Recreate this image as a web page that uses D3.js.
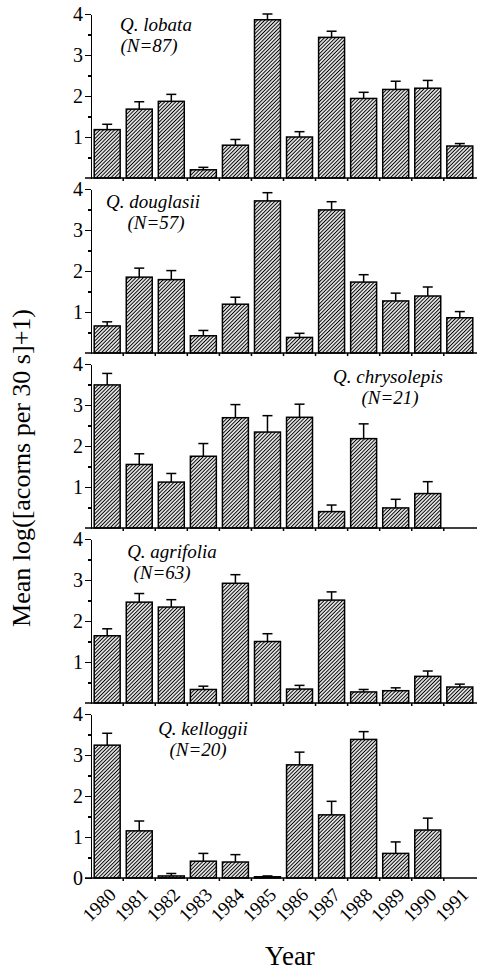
<!DOCTYPE html>
<html>
<head>
<meta charset="utf-8">
<script src="https://cdn.jsdelivr.net/npm/d3@7"></script>
<style>
    body { margin: 0; background: white; }
    text { font-family: "Liberation Serif", "Times New Roman", serif; fill: black; }
    .axis path, .axis line { fill: none; stroke: black; stroke-width: 1.5; shape-rendering: crispEdges; }
    .axis text { font-size: 20px; font-family: "Liberation Serif", "Times New Roman", serif; }
    .bar { fill: url(#hatch); stroke: black; stroke-width: 1.5; }
    .err { stroke: black; stroke-width: 1.5; fill: none; }
    .species { font-size: 19px; font-style: italic; text-anchor: middle; }
    .title { font-size: 26px; text-anchor: middle; }
</style>
</head>
<body>
<div id="chart"></div>
<script>
// data: mean and standard error per year
var years = [1980, 1981, 1982, 1983, 1984, 1985, 1986, 1987, 1988, 1989, 1990, 1991];

var lobataMean = [1.18, 1.68, 1.87, 0.20, 0.80, 3.86, 1.00, 3.43, 1.94, 2.16, 2.19, 0.78];
var lobataSE   = [0.13, 0.18, 0.17, 0.06, 0.14, 0.14, 0.13, 0.15, 0.15, 0.20, 0.19, 0.06];

var douglasiiMean = [0.66, 1.85, 1.79, 0.42, 1.19, 3.71, 0.38, 3.49, 1.73, 1.27, 1.39, 0.86];
var douglasiiSE   = [0.10, 0.22, 0.22, 0.13, 0.17, 0.20, 0.10, 0.20, 0.18, 0.19, 0.22, 0.15];

var chrysolepisMean = [3.49, 1.55, 1.12, 1.75, 2.69, 2.34, 2.70, 0.40, 2.18, 0.49, 0.84, null];
var chrysolepisSE   = [0.28, 0.26, 0.21, 0.31, 0.32, 0.40, 0.32, 0.16, 0.36, 0.21, 0.29, null];

var agrifoliaMean = [1.64, 2.46, 2.34, 0.33, 2.92, 1.50, 0.34, 2.51, 0.27, 0.30, 0.65, 0.39];
var agrifoliaSE   = [0.17, 0.21, 0.18, 0.08, 0.21, 0.19, 0.09, 0.20, 0.06, 0.07, 0.13, 0.07];

var kelloggiiMean = [3.24, 1.15, 0.05, 0.41, 0.39, 0.03, 2.76, 1.54, 3.38, 0.60, 1.17, null];
var kelloggiiSE   = [0.29, 0.24, 0.06, 0.19, 0.18, 0.02, 0.31, 0.33, 0.19, 0.28, 0.29, null];

var speciesNames = ["Q. lobata", "Q. douglasii", "Q. chrysolepis", "Q. agrifolia", "Q. kelloggii"];
var sampleSizes = ["(N=87)", "(N=57)", "(N=21)", "(N=63)", "(N=20)"];
var yTicks = [0, 1, 2, 3, 4];
var yMinorTicks = [0.5, 1.5, 2.5, 3.5];

var means = [lobataMean, douglasiiMean, chrysolepisMean, agrifoliaMean, kelloggiiMean];
var errors = [lobataSE, douglasiiSE, chrysolepisSE, agrifoliaSE, kelloggiiSE];

// layout
var W = 477, H = 971;
var axisX = 91, rightX = 476;
var panelTop0 = 14, panelStep = 175, panelH = 164;
// label placement [x name, y name, x N, y N] relative to panel top
var labelPos = [
    [156, 17, 149, 38],
    [153, 19, 156, 40],
    [388, 19, 390, 40],
    [172, 19, 162, 40],
    [203, 21, 198, 42]
];

var svg = d3.select("#chart").append("svg")
    .attr("width", W)
    .attr("height", H);

var hatch = svg.append("defs").append("pattern")
    .attr("id", "hatch")
    .attr("patternUnits", "userSpaceOnUse")
    .attr("width", 2.6)
    .attr("height", 10)
    .attr("patternTransform", "rotate(45)");
hatch.append("rect").attr("width", 2.6).attr("height", 10).attr("fill", "white");
hatch.append("line")
    .attr("x1", 1.3).attr("y1", 0).attr("x2", 1.3).attr("y2", 10)
    .attr("stroke", "black").attr("stroke-width", 1.1);

var x = d3.scaleBand()
    .domain(years)
    .range([axisX, rightX])
    .paddingInner(0.19)
    .paddingOuter(0.1);

var gap = x.step() * x.paddingInner();

means.forEach(function (vals, i) {
    var top = panelTop0 + i * panelStep;
    var bottom = top + panelH;
    var y = d3.scaleLinear().domain([0, 4]).range([bottom, top]);
    var g = svg.append("g");

    var rows = years.map(function (yr, j) {
        return { year: yr, mean: vals[j], se: errors[i][j] };
    }).filter(function (d) { return d.mean !== null; });

    // bars
    g.selectAll(".bar")
        .data(rows)
        .enter().append("rect")
        .attr("class", "bar")
        .attr("x", function (d) { return x(d.year); })
        .attr("y", function (d) { return y(d.mean); })
        .attr("width", x.bandwidth())
        .attr("height", function (d) { return y(0) - y(d.mean); });

    // error bars
    g.selectAll(".errv")
        .data(rows)
        .enter().append("line")
        .attr("class", "err")
        .attr("x1", function (d) { return x(d.year) + x.bandwidth() / 2; })
        .attr("x2", function (d) { return x(d.year) + x.bandwidth() / 2; })
        .attr("y1", function (d) { return y(d.mean); })
        .attr("y2", function (d) { return y(d.mean + d.se); });

    g.selectAll(".errc")
        .data(rows)
        .enter().append("line")
        .attr("class", "err")
        .attr("x1", function (d) { return x(d.year) + x.bandwidth() / 2 - 5; })
        .attr("x2", function (d) { return x(d.year) + x.bandwidth() / 2 + 5; })
        .attr("y1", function (d) { return y(d.mean + d.se); })
        .attr("y2", function (d) { return y(d.mean + d.se); });

    // y axis, major and minor ticks
    var isLast = i === means.length - 1;
    g.append("g")
        .attr("class", "axis")
        .attr("transform", "translate(" + axisX + ",0)")
        .call(d3.axisLeft(y)
            .tickValues(isLast ? yTicks : yTicks.slice(1))
            .tickSize(6)
            .tickSizeOuter(0)
            .tickPadding(2)
            .tickFormat(d3.format("d")));

    g.append("g")
        .attr("class", "axis")
        .attr("transform", "translate(" + axisX + ",0)")
        .call(d3.axisLeft(y)
            .tickValues(yMinorTicks)
            .tickSize(3)
            .tickSizeOuter(0)
            .tickFormat(""));

    // baseline with ticks between bars
    g.append("line")
        .attr("class", "err")
        .attr("x1", axisX - 6).attr("x2", W)
        .attr("y1", y(0)).attr("y2", y(0));

    g.selectAll(".xtick")
        .data(years.slice(1))
        .enter().append("line")
        .attr("class", "err")
        .attr("x1", function (d) { return x(d) - gap / 2; })
        .attr("x2", function (d) { return x(d) - gap / 2; })
        .attr("y1", y(0))
        .attr("y2", y(0) + 3);

    // species labels
    var lp = labelPos[i];
    g.append("text").attr("class", "species")
        .attr("x", lp[0]).attr("y", top + lp[1])
        .text(speciesNames[i]);
    g.append("text").attr("class", "species")
        .attr("x", lp[2]).attr("y", top + lp[3])
        .text(sampleSizes[i]);

    if (isLast) {
        var xAxis = g.append("g")
            .attr("class", "axis")
            .attr("transform", "translate(0," + y(0) + ")")
            .call(d3.axisBottom(x).tickSize(0));
        xAxis.select(".domain").remove();
        xAxis.selectAll("text")
            .attr("x", 0).attr("y", 0).attr("dy", 0)
            .style("font-size", "19px")
            .attr("text-anchor", "end")
            .attr("transform", "translate(10,18) rotate(-45)");
    }
});

// axis titles
svg.append("text")
    .attr("class", "title")
    .attr("transform", "translate(30,468) rotate(-90)")
    .text("Mean log([acorns per 30 s]+1)");

svg.append("text")
    .attr("class", "title")
    .attr("x", 290)
    .attr("y", 965)
    .style("font-size", "27px")
    .text("Year");
</script>
</body>
</html>
